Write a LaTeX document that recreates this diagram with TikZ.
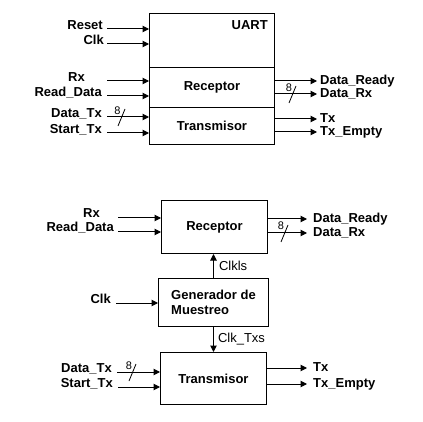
\documentclass[tikz,border=0pt]{standalone}
\usepackage{fontspec}
\setmainfont{Liberation Sans}
\usetikzlibrary{arrows.meta}
\tikzset{
  blk/.style={draw, line width=1pt, anchor=north west, inner sep=0pt,
    align=left, font=\fontsize{13}{15}\selectfont\bfseries},
  lbl/.style={inner sep=0pt, font=\fontsize{13}{15}\selectfont\bfseries},
  thinlbl/.style={inner sep=0pt, font=\fontsize{13}{15}\selectfont},
  buslbl/.style={inner sep=0pt, font=\fontsize{11}{12}\selectfont},
  sig/.style={line width=1pt, ->},
}
\begin{document}
\begin{tikzpicture}[x=1pt,y=1pt,>={Triangle[length=6.5pt,width=6.5pt]}]
  \useasboundingbox (0,0) rectangle (423,-422);
  \node[blk, minimum width=125pt, minimum height=54pt] (uart) at (149,-13) {};
  \node[blk, minimum width=125pt, minimum height=40pt] (urx) at (149,-67) {Receptor};
  \node[blk, minimum width=125pt, minimum height=37pt] (utx) at (149,-107) {Transmisor};
  \node[lbl, anchor=north east] (uartl) at (268,-20) {UART};
  \draw
    (107,-29) coordinate (urst)
    (107,-44) coordinate (uclk)
    (107,-81) coordinate (urxi)
    (107,-96) coordinate (urd)
    (107,-117) coordinate (udt)
    (107,-133) coordinate (ust)
    (317,-81) coordinate (udr)
    (317,-94) coordinate (udrx)
    (317,-119) coordinate (utxo)
    (317,-132) coordinate (ute);
  \node[lbl, anchor=base east] (urstl) at (103,-30) {Reset};
  \node[lbl, anchor=base east] (uclkl) at (104,-45) {Clk};
  \node[lbl, anchor=base east] (urxil) at (85,-82) {Rx};
  \node[lbl, anchor=base east] (urdl) at (102,-97) {Read\_Data};
  \node[lbl, anchor=base east] (udtl) at (102,-118) {Data\_Tx};
  \node[lbl, anchor=base east] (ustl) at (102,-134) {Start\_Tx};
  \node[lbl, anchor=base west] (udrl) at (320,-85) {Data\_Ready};
  \node[lbl, anchor=base west] (udrxl) at (320,-98) {Data\_Rx};
  \node[lbl, anchor=base west] (utxol) at (320,-123) {Tx};
  \node[lbl, anchor=base west] (utel) at (320,-136) {Tx\_Empty};
  \node[blk, minimum width=106pt, minimum height=53pt] (rxb) at (161,-200) {Receptor};
  \node[blk, minimum width=110pt, minimum height=48pt] (gen) at (158,-278) {Generador de\\Muestreo};
  \node[blk, minimum width=106pt, minimum height=52pt] (txb) at (160,-352) {Transmisor};
  \draw
    (118,-218) coordinate (brxi)
    (118,-232) coordinate (brd)
    (116,-303) coordinate (bclk)
    (117,-372) coordinate (bdt)
    (118,-387) coordinate (bst)
    (307,-219) coordinate (bdr)
    (307,-233) coordinate (bdrx)
    (307,-368) coordinate (btxo)
    (307,-384) coordinate (bte);
  \node[lbl, anchor=base east] (brxil) at (100,-218) {Rx};
  \node[lbl, anchor=base east] (brdl) at (114,-232) {Read\_Data};
  \node[lbl, anchor=base east] (bclkl) at (111,-303) {Clk};
  \node[lbl, anchor=base east] (bdtl) at (112,-372) {Data\_Tx};
  \node[lbl, anchor=base east] (bstl) at (113,-387) {Start\_Tx};
  \node[lbl, anchor=base west] (bdrl) at (313,-222.5) {Data\_Ready};
  \node[lbl, anchor=base west] (bdrxl) at (313,-236.5) {Data\_Rx};
  \node[lbl, anchor=base west] (btxol) at (313,-371.5) {Tx};
  \node[lbl, anchor=base west] (btel) at (313,-387.5) {Tx\_Empty};
  \begin{scope}[sig]
    \draw (urst) -- (urst -| uart.west);
    \draw (uclk) -- (uclk -| uart.west);
    \draw (urxi) -- (urxi -| urx.west);
    \draw (urd) -- (urd -| urx.west);
    \draw (udt) -- (udt -| utx.west);
    \draw (ust) -- (ust -| utx.west);
    \draw (udr -| urx.east) -- (udr);
    \draw (udrx -| urx.east) -- (udrx);
    \draw (utxo -| utx.east) -- (utxo);
    \draw (ute -| utx.east) -- (ute);
    \draw (brxi) -- (brxi -| rxb.west);
    \draw (brd) -- (brd -| rxb.west);
    \draw (bclk) -- (bclk -| gen.west);
    \draw (bdt) -- (bdt -| txb.west);
    \draw (bst) -- (bst -| txb.west);
    \draw (bdr -| rxb.east) -- (bdr);
    \draw (bdrx -| rxb.east) -- (bdrx);
    \draw (btxo -| txb.east) -- (btxo);
    \draw (bte -| txb.east) -- (bte);
    \draw (gen.north) -- node[thinlbl, right=5pt] (clkrl) {Clkls} (gen.north |- rxb.south);
    \draw (gen.south) -- node[thinlbl, right=4pt] (clktl) {Clk\_Txs} (gen.south |- txb.north);
  \end{scope}
  \begin{scope}[line width=0.8pt]
    \draw (122,-117) coordinate (ubt) ([shift={(-4,-9)}]ubt) -- ([shift={(3,8)}]ubt)
      ([shift={(-4.5,6)}]ubt) node[buslbl] (ubtl) {8};
    \draw (293,-94) coordinate (ubr) ([shift={(-4,-9)}]ubr) -- ([shift={(3,8)}]ubr)
      ([shift={(-4,6)}]ubr) node[buslbl] (ubrl) {8};
    \draw (133,-372) coordinate (bbt) ([shift={(-4,-9)}]bbt) -- ([shift={(3,8)}]bbt)
      ([shift={(-4,6)}]bbt) node[buslbl] (bbtl) {8};
    \draw (285,-233) coordinate (bbr) ([shift={(-4,-9)}]bbr) -- ([shift={(3,8)}]bbr)
      ([shift={(-4,7)}]bbr) node[buslbl] (bbrl) {8};
  \end{scope}
\end{tikzpicture}
\end{document}
